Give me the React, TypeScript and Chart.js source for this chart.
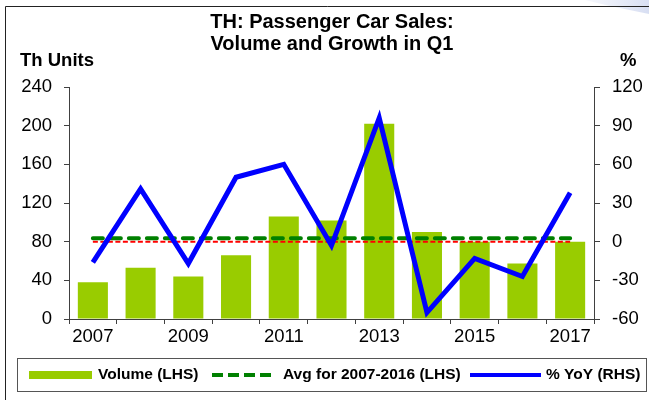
import React, { useEffect, useRef } from "react";
import { Chart, registerables } from "chart.js";

Chart.register(...registerables);

const years = ["2007", "2008", "2009", "2010", "2011", "2012", "2013", "2014", "2015", "2016", "2017"];
const volume = [38, 53, 44, 66, 106, 102, 202, 90, 80, 57.5, 80];
const avg2007to2016 = [83.6, 83.6, 83.6, 83.6, 83.6, 83.6, 83.6, 83.6, 83.6, 83.6, 83.6];
const zeroLine = [0, 0, 0, 0, 0, 0, 0, 0, 0, 0, 0];
const yoy = [-16, 41, -17, 50, 60, -3, 96, -55, -13, -27, 38];

const titleLines = ["TH: Passenger Car Sales:", "Volume and Growth in Q1"];
const leftTitle = "Th Units";
const rightTitle = "%";
const legendLabels = ["Volume (LHS)", "Avg for 2007-2016 (LHS)", "% YoY (RHS)"];

const FONT = "Arial, 'Liberation Sans', sans-serif";
const BAR = "#99CC00";
const GREEN = "#008000";
const BLUE = "#0000FF";
const RED = "#FF0000";
const AXIS = "#404040";

const decorPlugin = {
  id: "decor",
  beforeDraw(chart: any) {
    const ctx = chart.ctx;
    ctx.save();
    ctx.fillStyle = "#ffffff";
    ctx.fillRect(0, 0, chart.width, chart.height);
    // light decoration top right
    const g = ctx.createLinearGradient(560, 0, 649, 14);
    g.addColorStop(0, "rgba(225,230,245,0)");
    g.addColorStop(1, "rgba(215,222,242,1)");
    ctx.fillStyle = g;
    ctx.beginPath();
    ctx.moveTo(585, 0);
    ctx.lineTo(649, 0);
    ctx.lineTo(649, 14);
    ctx.lineTo(610, 6);
    ctx.closePath();
    ctx.fill();
    // outer frame (left & top)
    ctx.strokeStyle = "#222";
    ctx.lineWidth = 1;
    ctx.beginPath();
    ctx.moveTo(5.5, 400);
    ctx.lineTo(5.5, 6.5);
    ctx.lineTo(649, 6.5);
    ctx.stroke();
    ctx.restore();
  },
  afterDraw(chart: any) {
    const ctx = chart.ctx;
    ctx.save();
    ctx.fillStyle = "#000";
    ctx.textBaseline = "middle";
    ctx.textAlign = "center";
    ctx.font = `bold 20px ${FONT}`;
    ctx.fillText(titleLines[0], 332, 22);
    ctx.fillText(titleLines[1], 332, 44);
    ctx.font = `bold 18.5px ${FONT}`;
    ctx.textAlign = "left";
    ctx.fillText(leftTitle, 20, 61);
    ctx.fillText(rightTitle, 620, 61);

    // legend box
    ctx.strokeStyle = "#555";
    ctx.lineWidth = 1;
    ctx.strokeRect(17.5, 358.5, 629, 33);
    const ly = 375;
    ctx.fillStyle = BAR;
    ctx.fillRect(29, ly - 4, 63, 8);
    ctx.strokeStyle = GREEN;
    ctx.lineWidth = 4;
    ctx.setLineDash([11, 5]);
    ctx.beginPath();
    ctx.moveTo(212, ly);
    ctx.lineTo(276, ly);
    ctx.stroke();
    ctx.setLineDash([]);
    ctx.strokeStyle = BLUE;
    ctx.beginPath();
    ctx.moveTo(470, ly);
    ctx.lineTo(541, ly);
    ctx.stroke();
    ctx.fillStyle = "#000";
    ctx.font = `bold 15.5px ${FONT}`;
    ctx.textAlign = "left";
    ctx.fillText(legendLabels[0], 98, ly);
    ctx.fillText(legendLabels[1], 283, ly);
    ctx.fillText(legendLabels[2], 546, ly);
    ctx.restore();
  },
};

export default function App() {
  const ref = useRef<HTMLCanvasElement | null>(null);
  useEffect(() => {
    document.body.style.margin = "0";
    const canvas = ref.current;
    if (!canvas) return;
    const chart = new Chart(canvas, {
      type: "bar",
      data: {
        labels: years,
        datasets: [
          {
            type: "bar",
            label: legendLabels[0],
            data: volume,
            backgroundColor: BAR,
            borderWidth: 0,
            barPercentage: 0.63,
            categoryPercentage: 1,
            yAxisID: "y",
            order: 4,
          },
          {
            type: "line",
            label: "zero",
            data: zeroLine,
            borderColor: RED,
            borderWidth: 2,
            borderDash: [5, 2.5],
            pointRadius: 0,
            yAxisID: "y1",
            order: 3,
          },
          {
            type: "line",
            label: legendLabels[1],
            data: avg2007to2016,
            borderColor: GREEN,
            borderWidth: 4,
            borderDash: [10, 8],
            borderCapStyle: "round",
            pointRadius: 0,
            yAxisID: "y",
            order: 2,
          },
          {
            type: "line",
            label: legendLabels[2],
            data: yoy,
            borderColor: BLUE,
            borderWidth: 5,
            pointRadius: 0,
            tension: 0,
            yAxisID: "y1",
            order: 1,
          },
        ] as any,
      },
      options: {
        responsive: false,
        animation: false,
        devicePixelRatio: 1,
        layout: { padding: { top: 87, left: 0, right: 0, bottom: 0 } },
        plugins: { legend: { display: false }, title: { display: false }, tooltip: { enabled: false } },
        scales: {
          x: {
            type: "category",
            offset: true,
            grid: { offset: true, drawOnChartArea: false, drawTicks: true, tickLength: 5, color: AXIS },
            border: { color: AXIS, width: 1 },
            ticks: {
              color: "#000",
              font: { family: FONT, size: 18.5 },
              padding: 2,
              autoSkip: false,
              maxRotation: 0,
              callback: (_v: any, i: number) => (i % 2 === 0 ? years[i] : ""),
            },
            afterFit: (s: any) => {
              s.height = 81;
            },
          },
          y: {
            position: "left",
            min: 0,
            max: 240,
            grid: { drawOnChartArea: false, tickLength: 5, color: AXIS },
            border: { color: AXIS, width: 1 },
            ticks: { stepSize: 40, color: "#000", font: { family: FONT, size: 18.5 }, padding: 12 },
            afterFit: (s: any) => {
              s.width = 69;
            },
          },
          y1: {
            position: "right",
            min: -60,
            max: 120,
            grid: { drawOnChartArea: false, tickLength: 6, color: AXIS },
            border: { color: AXIS, width: 1 },
            ticks: { stepSize: 30, color: "#000", font: { family: FONT, size: 18.5 }, padding: 12 },
            afterFit: (s: any) => {
              s.width = 55;
            },
          },
        },
      } as any,
      plugins: [decorPlugin],
    });
    return () => chart.destroy();
  }, []);
  return (
    <div style={{ position: "absolute", left: 0, top: 0, width: 649, height: 400 }}>
      <canvas ref={ref} width={649} height={400} style={{ display: "block", width: 649, height: 400 }} />
    </div>
  );
}
